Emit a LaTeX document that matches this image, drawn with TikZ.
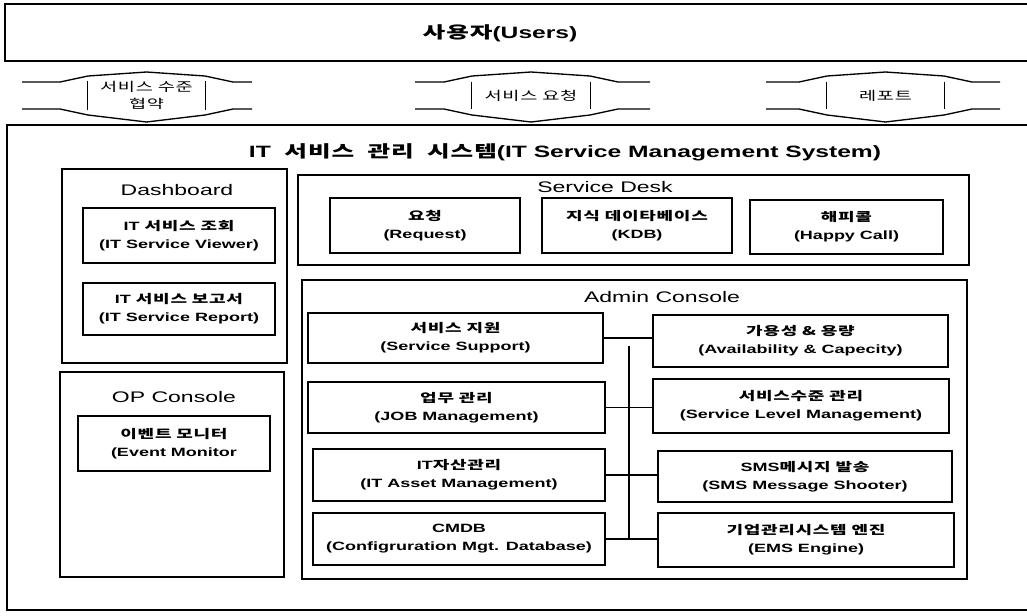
\documentclass[tikz,border=0pt]{standalone}
\usepackage{fontspec}
\setmainfont{Liberation Sans}[FakeStretch=1.5]
\newfontfamily\krf{Noto Sans CJK KR}[FakeStretch=1.5,LetterSpace=6]
\newcommand\kr[1]{{\krf #1}}
\newcommand\rbox[6]{\node[#6, minimum width={(#4-#2)*0.75pt}, minimum height={(#5-#3)*0.75pt}] (#1) at ({(#2+#4)/2},{(#3+#5)/2})}
\newcommand\darrow[6]{% name, L, boxL, boxR, R, text
  \node[arrtext, minimum width={(#4-#3)*0.75pt}, minimum height={27*0.75pt}] (#1) at ({(#3+#4)/2},95.5) {#6};
  \draw[arr] (#2,82) -- ({#3-28},82) -- (#3,76) -- ({(#3+#4)/2},72) -- (#4,76) -- ({#4+28},82) -- (#5,82);
  \draw[arr] (#2,109) -- ({#3-28},109) -- (#3,115) -- ({(#3+#4)/2},122) -- (#4,115) -- ({#4+28},109) -- (#5,109);
  \draw[arr] (#1.north west) -- (#1.south west);
  \draw[arr] (#1.north east) -- (#1.south east);
}
\tikzset{
  frame/.style={draw, line width=1.2pt, inner sep=0pt},
  item/.style={frame, align=center, font=\fontsize{9}{13.5}\selectfont\bfseries},
  sect/.style={font=\fontsize{11.5}{13}\selectfont, inner sep=0pt},
  big/.style={font=\fontsize{12.3}{14}\selectfont\bfseries, inner sep=0pt},
  arr/.style={line width=1pt},
  arrtext/.style={font=\fontsize{9.3}{12.5}\selectfont, align=center, inner sep=0pt},
  conn/.style={line width=0.9pt}
}
\begin{document}
\begin{tikzpicture}[x=0.75pt,y=-0.75pt]
\useasboundingbox (0,0) rectangle (1027,615);
\clip (0,0) rectangle (1027,615);
% users
\rbox{users}{5}{4}{1045}{61}{frame} {};
\node[big] (usersT) at (500,33) {\kr{사용자}(Users)};
% arrows
\darrow{a1}{22}{88}{205}{252}{\kr{서비스 수준}\\\kr{협약}}
\darrow{a2}{415}{472}{590}{650}{\kr{서비스 요청}}
\darrow{a3}{766}{827}{944}{1000}{\kr{레포트}}
% ITSM
\rbox{itsm}{7}{125}{1045}{610}{frame} {};
\node[big] (itsmT) at (565,152) {IT\ \ \kr{서비스\ \ 관리\ \ 시스템}(IT Service Management System)};
% Dashboard
\rbox{dash}{62}{169}{287}{363}{frame} {};
\node[sect] (dashT) at (177,190) {Dashboard};
\rbox{viewer}{83}{208}{275}{263}{item} {IT \kr{서비스 조회}\\(IT Service Viewer)};
\rbox{report}{83}{283}{275}{335}{item} {IT \kr{서비스 보고서}\\(IT Service Report)};
% OP Console
\rbox{opc}{60}{372}{284}{577}{frame} {};
\node[sect] (opcT) at (174,397) {OP Console};
\rbox{evm}{78}{416}{270}{471}{item} {\kr{이벤트 모니터}\\(Event Monitor};
% Service Desk
\rbox{sdesk}{298}{175}{969}{265}{frame} {};
\node[sect] (sdeskT) at (605,187) {Service Desk};
\rbox{req}{330}{198}{520}{253}{item} {\kr{요청}\\(Request)};
\rbox{kdb}{542}{198}{732}{253}{item} {\kr{지식 데이타베이스}\\(KDB)};
\rbox{happy}{750}{200}{943}{254}{item} {\kr{해피콜}\\(Happy Call)};
% Admin Console
\rbox{admin}{302}{280}{967}{579}{frame} {};
\node[sect] (adminT) at (662,297) {Admin Console};
\rbox{ss}{308}{313}{603}{363}{item} {\kr{서비스 지원}\\(Service Support)};
\rbox{job}{308}{382}{605}{433}{item} {\kr{업무 관리}\\(JOB Management)};
\rbox{asset}{313}{449}{605}{501}{item} {IT\kr{자산관리}\\(IT Asset Management)};
\rbox{cmdb}{313}{513}{605}{565}{item} {CMDB\\(Configruration Mgt. Database)};
\rbox{avail}{653}{315}{948}{367}{item} {\kr{가용성 \& 용량}\\(Availability \& Capecity)};
\rbox{slm}{653}{379}{949}{433}{item} {\kr{서비스수준 관리}\\(Service Level Management)};
\rbox{sms}{658}{451}{952}{502}{item} {SMS\kr{메시지 발송}\\(SMS Message Shooter)};
\rbox{ems}{658}{513}{954}{567}{item} {\kr{기업관리시스템 엔진}\\(EMS Engine)};
% connectors
\draw[conn] (ss.east) -- (ss.east -| avail.west);
\draw[conn] (job.east) -- (job.east -| slm.west);
\draw[conn] (asset.east) -- (asset.east -| sms.west);
\draw[conn] (cmdb.east) -- (cmdb.east -| ems.west);
\coordinate (busT) at (629,346);
\draw[conn] (busT) -- (busT |- cmdb.east);
\end{tikzpicture}
\end{document}
